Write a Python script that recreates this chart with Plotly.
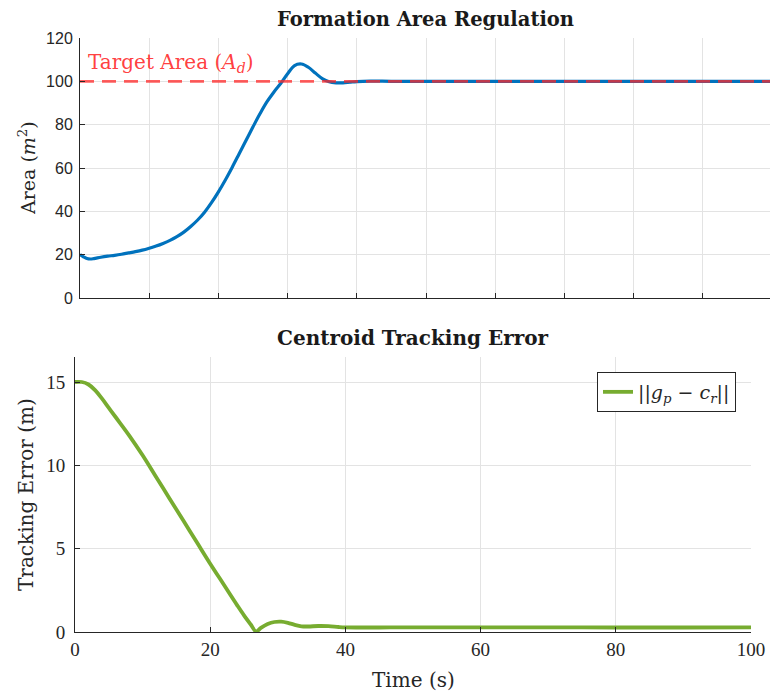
import plotly.graph_objects as go

# Top panel: formation area
t_area = [0, 0.5, 1, 1.5, 2, 3, 4, 5, 6, 7, 8, 9, 10, 11, 12, 13, 14, 15, 16, 17, 18, 19, 20,
          21, 22, 23, 24, 25, 26, 27, 28, 29, 30, 31, 32, 33, 34, 35, 36, 37, 38, 39, 40,
          42, 45, 50, 60, 70, 80, 90, 100]
area = [20, 19, 18.2, 18, 18.2, 18.8, 19.3, 19.7, 20.2, 20.8, 21.4, 22.1, 23, 24, 25.2, 26.6,
        28.3, 30.4, 33, 36, 39.6, 44, 49, 54.5, 60.4, 66.6, 72.8, 79, 85, 90.5, 95, 99, 103.5,
        107.3, 108, 106.5, 103.8, 101.3, 99.8, 99.3, 99.3, 99.6, 99.9, 100.1, 100, 100, 100,
        100, 100, 100, 100]
target_area = 100
area_ticks = [0, 20, 40, 60, 80, 100, 120]

# Bottom panel: centroid tracking error
t_err = [0, 1, 2, 3, 4, 5, 6, 8, 10, 12, 14, 16, 18, 20, 22, 24, 25, 26, 26.8, 27.5, 28.5,
         29.5, 30.5, 31.5, 32.5, 33.5, 34.5, 36, 37.5, 39, 40, 45, 50, 60, 70, 80, 90, 100]
err = [15, 15, 14.85, 14.5, 14.0, 13.45, 12.9, 11.8, 10.6, 9.3, 8.0, 6.7, 5.4, 4.1, 2.85, 1.6,
       1.0, 0.45, 0.03, 0.25, 0.48, 0.6, 0.62, 0.55, 0.43, 0.34, 0.33, 0.36, 0.35, 0.3, 0.28,
       0.27, 0.28, 0.28, 0.28, 0.27, 0.27, 0.28]
err_ticks = [0, 5, 10, 15]
time_ticks = [0, 20, 40, 60, 80, 100]

W, H = 770, 693
def fx(p): return p / W
def fy(p): return 1 - p / H

SERIF = "Liberation Serif"
WSERIF = "DejaVu Serif"
SANS = "Liberation Sans"
AX = "#262626"
GRID = "#e3e3e3"

fig = go.Figure()
fig.add_trace(go.Scatter(x=t_area, y=area, mode="lines", line=dict(color="#0072BD", width=3.2, shape="spline"),
                         showlegend=False, xaxis="x", yaxis="y"))
fig.add_trace(go.Scatter(x=[0, 100], y=[target_area, target_area], mode="lines",
                         line=dict(color="rgba(255,40,40,0.75)", width=2.8, dash="14px,8px"),
                         showlegend=False, xaxis="x", yaxis="y"))
fig.add_trace(go.Scatter(x=t_err, y=err, mode="lines", line=dict(color="#77AC30", width=3.8, shape="spline"),
                         name="||<i>g</i><sub><i>p</i></sub> − <i>c</i><sub><i>r</i></sub>||",
                         showlegend=True, xaxis="x2", yaxis="y2"))

common = dict(showline=True, linecolor=AX, linewidth=1, ticks="inside", ticklen=5,
              tickcolor=AX, showgrid=True, gridcolor=GRID, gridwidth=1, zeroline=False,
              mirror=False, automargin=False, ticklabeloverflow="allow")

fig.update_layout(
    width=W, height=H, margin=dict(l=0, r=0, t=0, b=0, autoexpand=False),
    plot_bgcolor="white", paper_bgcolor="white",
    xaxis=dict(domain=[fx(80), 1.0], anchor="y", range=[0, 99.7], dtick=10,
               showticklabels=False, **common),
    yaxis=dict(domain=[fy(298), fy(38)], anchor="x", range=[0, 120], tickvals=area_ticks,
               tickfont=dict(family=SANS, size=16, color=AX), ticklabelstandoff=3, **common),
    xaxis2=dict(domain=[fx(75), fx(751)], anchor="y2", range=[0, 100], tickvals=time_ticks,
                tickfont=dict(family=SERIF, size=19, color=AX), **common),
    yaxis2=dict(domain=[fy(632), fy(357)], anchor="x2", range=[0, 16.5], tickvals=err_ticks,
                tickfont=dict(family=SERIF, size=19, color=AX), ticklabelstandoff=5, **common),
    legend=dict(x=fx(736), xanchor="right", y=fy(372), yanchor="top",
                bgcolor="white", bordercolor=AX, borderwidth=1,
                font=dict(family=WSERIF, size=19, color=AX)),
    annotations=[
        dict(text="<b>Formation Area Regulation</b>", x=fx(425), y=fy(20), xref="paper", yref="paper",
             xanchor="center", yanchor="middle",
             showarrow=False, font=dict(family=WSERIF, size=19.5, color="#1a1a1a")),
        dict(text="<b>Centroid Tracking Error</b>", x=fx(413), y=fy(338), xref="paper", yref="paper",
             xanchor="center", yanchor="middle",
             showarrow=False, font=dict(family=WSERIF, size=20, color="#1a1a1a")),
        dict(text="Target Area (<i>A</i><sub><i>d</i></sub>)", x=fx(86), y=fy(63), xref="paper", yref="paper",
             xanchor="left", yanchor="middle", showarrow=False,
             font=dict(family=WSERIF, size=20, color="rgba(255,40,40,0.9)")),
        dict(text="Area (<i>m</i><sup>2</sup>)", x=fx(27), y=fy(168), xref="paper", yref="paper",
             xanchor="center", yanchor="middle",
             textangle=-90, showarrow=False, font=dict(family=WSERIF, size=19, color=AX)),
        dict(text="Tracking Error (m)", x=fx(26), y=fy(495), xref="paper", yref="paper",
             xanchor="center", yanchor="middle",
             textangle=-90, showarrow=False, font=dict(family=WSERIF, size=20, color=AX)),
        dict(text="Time (s)", x=fx(413), y=fy(680), xref="paper", yref="paper",
             xanchor="center", yanchor="middle",
             showarrow=False, font=dict(family=WSERIF, size=20, color=AX)),
    ],
)

fig.write_html("out.html")
